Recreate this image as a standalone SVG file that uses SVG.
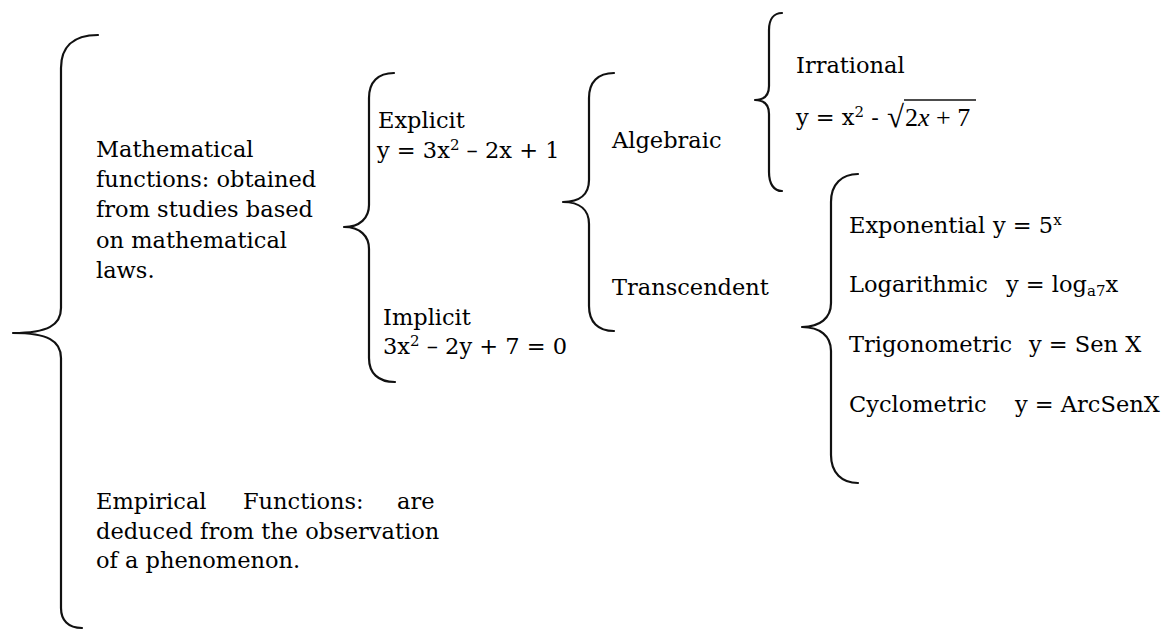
<svg xmlns="http://www.w3.org/2000/svg" width="1166" height="630" viewBox="0 0 1166 630">
<style>
text{font-family:"DejaVu Serif","Liberation Serif",serif;font-size:22.5px;fill:#000}
.sup{font-size:15px}
.eq{font-family:"Liberation Serif","DejaVu Serif",serif;font-size:26px}
.brace{fill:none;stroke:#111;stroke-width:2.2;stroke-linecap:round;stroke-linejoin:round}
</style>
<rect width="1166" height="630" fill="#fff"/>
<g id="connectors">
<path class="brace" d="M98,35 C72,35 61,48 61,68 L61,308 C61,325 48,333 13,333 C48,333 61,341 61,358 L61,608 C61,620 68,628 82,628"/>
<path class="brace" d="M394,73 C378,73 369,82 369,98 L369,205 C369,218 360,227 344,227 C360,227 369,236 369,249 L369,358 C369,373 378,382 395,382"/>
<path class="brace" d="M614,73 C598,73 589,82 589,98 L589,180 C589,194 580,202 563,202 C580,202 589,210 589,224 L589,306 C589,322 598,331 614,331"/>
<path class="brace" d="M782,13 C774,13 769,19 769,30 L769,86 C769,95 764,100 755,100 C764,100 769,105 769,114 L769,172 C769,184 774,191 782,191"/>
<path class="brace" d="M858,174 C842,174 831,184 831,202 L831,303 C831,318 820,327 802,327 C820,327 831,336 831,351 L831,455 C831,473 842,483 858,483"/>
</g>
<g id="mathematical">
<text x="96" y="157">Mathematical</text>
<text x="96" y="187">functions: obtained</text>
<text x="96" y="217">from studies based</text>
<text x="96" y="248">on mathematical</text>
<text x="96" y="278">laws.</text>
</g>
<g id="empirical">
<text y="509"><tspan x="96">Empirical</tspan><tspan x="243">Functions:</tspan><tspan x="397">are</tspan></text>
<text x="96" y="539">deduced from the observation</text>
<text x="96" y="568">of a phenomenon.</text>
</g>
<g id="explicit">
<text x="378" y="128">Explicit</text>
<text x="377" y="158">y = 3x<tspan class="sup" dy="-8">2</tspan><tspan dy="8"> – 2x + 1</tspan></text>
</g>
<g id="implicit">
<text x="383" y="325">Implicit</text>
<text x="383" y="354">3x<tspan class="sup" dy="-8">2</tspan><tspan dy="8"> – 2y + 7 = 0</tspan></text>
</g>
<g id="algebraic">
<text x="612" y="148">Algebraic</text>
</g>
<g id="transcendent">
<text x="612" y="295">Transcendent</text>
</g>
<g id="irrational">
<text x="796" y="73">Irrational</text>
<text x="796" y="125">y = x<tspan class="sup" dy="-8">2</tspan><tspan dy="8"> -</tspan></text>
<text class="eq" x="887" y="127" style="font-size:31px">√</text>
<line x1="904" y1="100" x2="976" y2="100" stroke="#111" stroke-width="1.3"/>
<text class="eq" x="905" y="126">2<tspan font-style="italic">x</tspan> + 7</text>
</g>
<g id="exponential">
<text x="849" y="233">Exponential</text>
<text x="993" y="233">y = 5<tspan class="sup" dy="-8">x</tspan></text>
</g>
<g id="logarithmic">
<text x="849" y="292">Logarithmic</text>
<text x="1006" y="292">y = log<tspan class="sup" dy="4">a7</tspan><tspan dy="-4">x</tspan></text>
</g>
<g id="trigonometric">
<text x="849" y="352">Trigonometric</text>
<text x="1029" y="352">y = Sen X</text>
</g>
<g id="cyclometric">
<text x="849" y="412">Cyclometric</text>
<text x="1015" y="412">y = ArcSenX</text>
</g>
</svg>
